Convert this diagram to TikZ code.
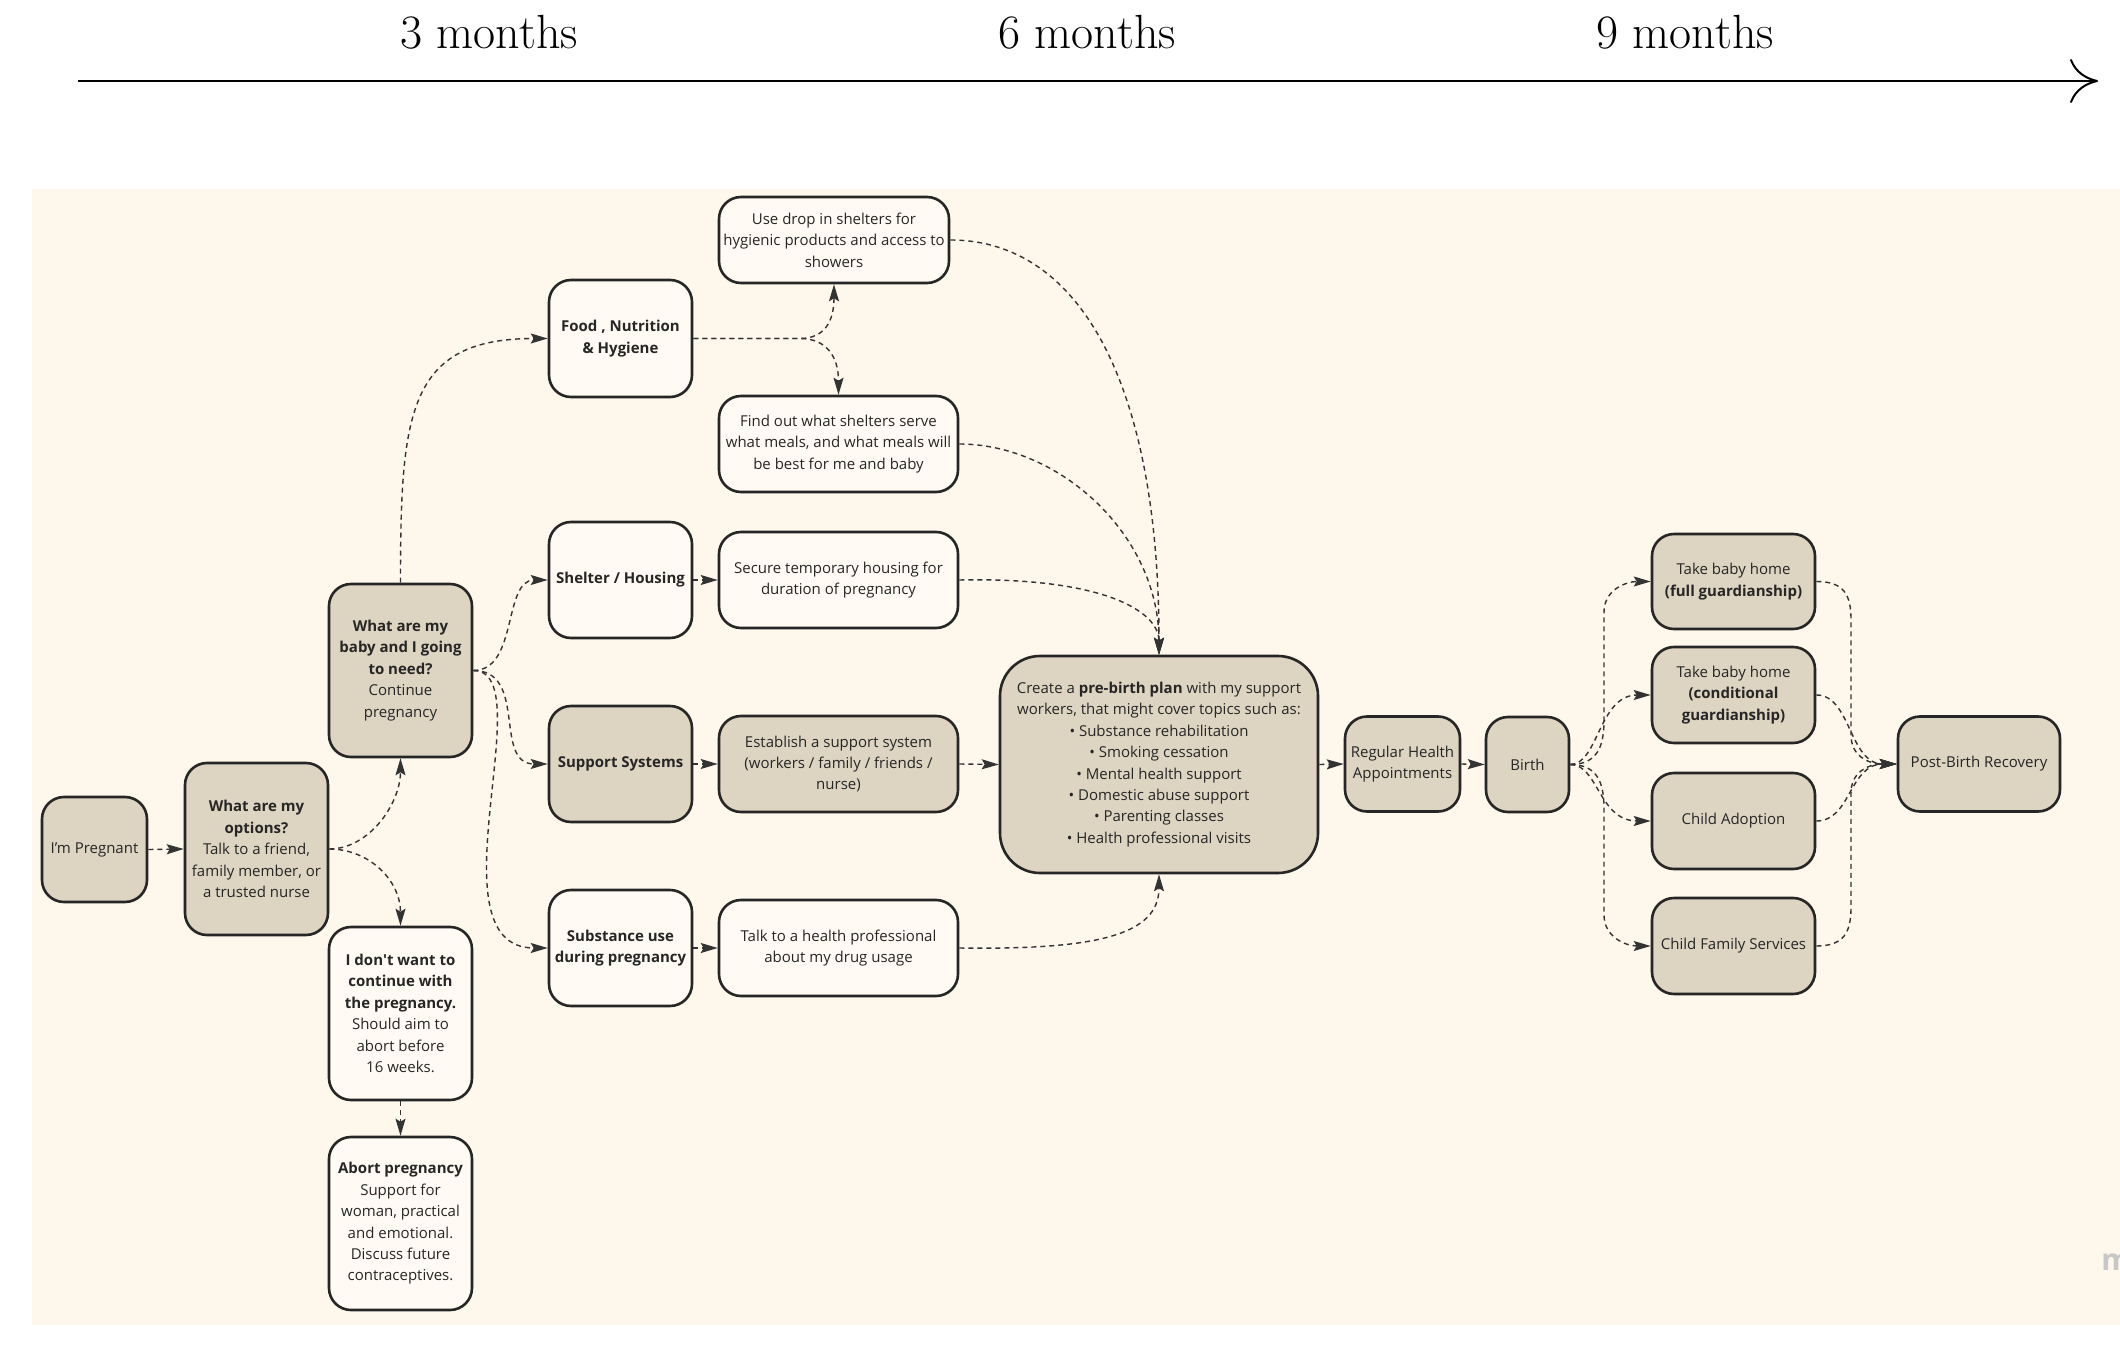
\documentclass[tikz,border=0pt]{standalone}
\usepackage{fontspec}
\newfontfamily\osans{Open Sans}
\usetikzlibrary{arrows.meta}
\definecolor{panel}{HTML}{FDF7EC}
\definecolor{tanc}{HTML}{DDD4C2}
\definecolor{whitec}{HTML}{FFFBF4}
\definecolor{linec}{HTML}{262626}
\definecolor{connc}{HTML}{333333}
\begin{document}
\begin{tikzpicture}[x=0.5pt,y=-0.5pt,
  box/.style={draw=linec, line width=1.3pt, rounded corners=11pt, align=center, inner sep=0pt,
    font=\osans\fontsize{7.5}{10.7}\selectfont, text=black!85},
  tanbox/.style={box, fill=tanc},
  whtbox/.style={box, fill=whitec},
  conn/.style={draw=connc, line width=0.7pt, dash pattern=on 2.5pt off 2pt,
    -{Stealth[length=8.5pt,width=5pt,inset=1.5pt]}},
  month/.style={font=\fontsize{24}{28}\selectfont, anchor=base, inner sep=0pt},
]
\useasboundingbox (0,0) rectangle (2120,1358);
\fill[white] (0,0) rectangle (2120,1358);
\fill[panel] (32,189) rectangle (2120,1325);

% timeline
\node[month] (m3) at (489,49) {3 months};
\node[month] (m6) at (1087,49) {6 months};
\node[month] (m9) at (1685,49) {9 months};
\coordinate (t0) at (78,81);
\coordinate (t1) at (2098,81);
\draw[line width=1pt, -{To[length=14pt,width=22pt]}] (t0) -- (t1);

% nodes
\node[tanbox, minimum width=52.5pt, minimum height=52.5pt] (preg) at (94.5,849.5) {I’m Pregnant};
\node[tanbox, minimum width=71.5pt, minimum height=86pt] (opt) at (256.5,849)
  {\textbf{What are my}\\\textbf{options?}\\Talk to a friend,\\family member, or\\a trusted nurse};
\node[tanbox, minimum width=71.5pt, minimum height=86.5pt] (need) at (400.5,670.5)
  {\textbf{What are my}\\\textbf{baby and I going}\\\textbf{to need?}\\Continue\\pregnancy};
\node[whtbox, minimum width=71.5pt, minimum height=86.5pt] (dont) at (400.5,1013.5)
  {\textbf{I don't want to}\\\textbf{continue with}\\\textbf{the pregnancy.}\\Should aim to\\abort before\\16 weeks.};
\node[whtbox, minimum width=71.5pt, minimum height=86.5pt] (abort) at (400.5,1223.5)
  {\textbf{Abort pregnancy}\\Support for\\woman, practical\\and emotional.\\Discuss future\\contraceptives.};
\node[whtbox, minimum width=71.5pt, minimum height=58.5pt] (food) at (620.5,338.5)
  {\textbf{Food , Nutrition}\\\textbf{\& Hygiene}};
\node[whtbox, minimum width=115pt, minimum height=43pt] (drop) at (834,240)
  {Use drop in shelters for\\hygienic products and access to\\showers};
\node[whtbox, minimum width=119.5pt, minimum height=48pt] (find) at (838.5,444)
  {Find out what shelters serve\\what meals, and what meals will\\be best for me and baby};
\node[whtbox, minimum width=71.5pt, minimum height=58pt] (shel) at (620.5,580)
  {\textbf{Shelter / Housing}};
\node[whtbox, minimum width=119.5pt, minimum height=48pt] (secure) at (838.5,580)
  {Secure temporary housing for\\duration of pregnancy};
\node[tanbox, minimum width=71.5pt, minimum height=58pt] (supp) at (620.5,764)
  {\textbf{Support Systems}};
\node[tanbox, minimum width=119.5pt, minimum height=48pt] (estab) at (838.5,764)
  {Establish a support system\\(workers / family / friends /\\nurse)};
\node[whtbox, minimum width=71.5pt, minimum height=58pt] (subs) at (620.5,948)
  {\textbf{Substance use}\\\textbf{during pregnancy}};
\node[whtbox, minimum width=119.5pt, minimum height=48pt] (talk) at (838.5,948)
  {Talk to a health professional\\about my drug usage};
\node[tanbox, rounded corners=20pt, minimum width=159pt, minimum height=108.5pt] (plan) at (1159,764.5)
  {Create a \textbf{pre-birth plan} with my support\\workers, that might cover topics such as:\\
   • Substance rehabilitation\\• Smoking cessation\\• Mental health support\\
   • Domestic abuse support\\• Parenting classes\\• Health professional visits};
\node[tanbox, minimum width=57.5pt, minimum height=47.5pt] (reg) at (1402.5,764)
  {Regular Health\\Appointments};
\node[tanbox, minimum width=41.5pt, minimum height=47.5pt] (birth) at (1527.5,764.5) {Birth};
\node[tanbox, minimum width=81.5pt, minimum height=47.5pt] (full) at (1733.5,581.5)
  {Take baby home\\\textbf{(full guardianship)}};
\node[tanbox, minimum width=81.5pt, minimum height=48pt] (cond) at (1733.5,695)
  {Take baby home\\\textbf{(conditional}\\\textbf{guardianship)}};
\node[tanbox, minimum width=81.5pt, minimum height=48pt] (adopt) at (1733.5,821)
  {Child Adoption};
\node[tanbox, minimum width=81.5pt, minimum height=48pt] (cfs) at (1733.5,946)
  {Child Family Services};
\node[tanbox, minimum width=81pt, minimum height=47.5pt] (post) at (1979,764)
  {Post-Birth Recovery};

\node[font=\osans\bfseries\fontsize{15}{15}\selectfont, text=black!22, anchor=west, inner sep=0pt] (wm) at (2101,1262) {m};

% connectors
\draw[conn] (preg.east) -- (opt.west);
\draw[conn] (opt.east) .. controls +(40,0) and +(0,45) .. (need.south);
\draw[conn] (opt.east) .. controls +(40,0) and +(0,-45) .. (dont.north);
\draw[conn] (dont.south) -- (abort.north);
\draw[conn] (need.north) .. controls +(0,-170) and +(-140,0) .. (food.west);
\draw[conn] (need.east) .. controls +(45,0) and +(-45,0) .. (shel.west);
\draw[conn] (need.east) .. controls +(55,0) and +(-55,0) .. (supp.west);
\draw[conn] (need.east) .. controls +(70,0) and +(-120,0) .. (subs.west);
\draw[conn] (food.east) -- (800,338.5) .. controls (824,338.5) and (834,322) .. (drop.south);
\draw[conn] (food.east) -- (800,338.5) .. controls (826,338.5) and (838.5,356) .. (find.north);
\draw[conn] (shel.east) -- (secure.west);
\draw[conn] (supp.east) -- (estab.west);
\draw[conn] (subs.east) -- (talk.west);
\draw[conn] (drop.east) .. controls +(130,0) and +(0,-270) .. (plan.north);
\draw[conn] (find.east) .. controls +(100,0) and +(0,-120) .. (plan.north);
\draw[conn] (secure.east) .. controls +(140,-3) and +(0,-45) .. (plan.north);
\draw[conn] (estab.east) -- (plan.west);
\draw[conn] (talk.east) .. controls +(140,2) and +(0,60) .. (plan.south);
\draw[conn] (plan.east) -- (reg.west);
\draw[conn] (reg.east) -- (birth.west);
\draw[conn] (birth.east) .. controls +(28,0) and +(0,25) .. (1604,720) -- (1604,612)
  .. controls +(0,-22) and +(-25,0) .. (full.west);
\draw[conn] (birth.east) .. controls +(28,0) and +(-52,0) .. (cond.west);
\draw[conn] (birth.east) .. controls +(28,0) and +(-52,0) .. (adopt.west);
\draw[conn] (birth.east) .. controls +(28,0) and +(0,-25) .. (1604,809) -- (1604,915)
  .. controls +(0,22) and +(-25,0) .. (cfs.west);
\draw[conn] (full.east) .. controls +(28,0) and +(0,-25) .. (1851,620) -- (1851,735)
  .. controls +(0,20) and +(-30,0) .. (post.west);
\draw[conn] (cond.east) .. controls +(35,0) and +(-48,0) .. (post.west);
\draw[conn] (adopt.east) .. controls +(35,0) and +(-48,0) .. (post.west);
\draw[conn] (cfs.east) .. controls +(28,0) and +(0,25) .. (1851,907) -- (1851,793)
  .. controls +(0,-20) and +(-30,0) .. (post.west);
\end{tikzpicture}
\end{document}
